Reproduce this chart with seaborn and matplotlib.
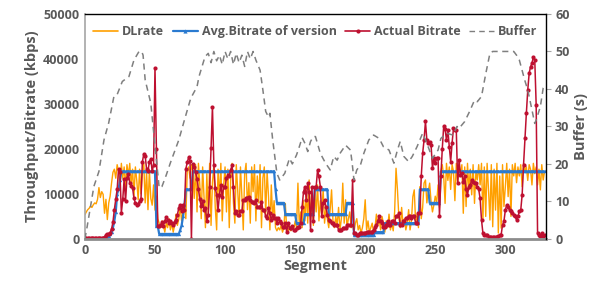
import numpy as np
import matplotlib.pyplot as plt
from matplotlib.lines import Line2D
import seaborn as sns

# ── Data ────────────────────────────────────────────────────────────────────────
dl_rate = [
    5400, 6000, 6500, 6800, 7300, 7000, 7600, 8000, 7800, 8800,
    11400, 9200, 10500, 9900, 5700, 8800, 4300, 8000, 9500, 12400,
    14800, 15500, 13500, 16500, 15000, 11000, 16800, 13500, 16000, 11500,
    16500, 14000, 16800, 12000, 15500, 9500, 16000, 13000, 8700, 15500,
    10000, 14500, 16800, 8000, 15000, 6500, 15300, 9000, 7500, 12000,
    6400, 9500, 4500, 3500, 2500, 4000, 3000, 1500, 3500, 2500,
    4500, 2000, 3500, 1500, 3000, 5500, 3000, 4500, 7200, 4000,
    6000, 8000, 4500, 15000, 16000, 13500, 16500, 15000, 9000, 16500,
    6000, 16800, 12000, 4500, 16000, 9000, 2500, 14500, 5000, 16800,
    3000, 12500, 16500, 7000, 2000, 15500, 9000, 16800, 4000, 12000,
    16000, 6000, 15500, 2500, 13000, 16800, 8000, 3500, 16500, 11000,
    5000, 16000, 9500, 2000, 14500, 16800, 6500, 12500, 3500, 16000,
    10500, 16500, 4000, 14000, 8000, 16500, 2500, 13500, 16000, 5500,
    15000, 9500, 2000, 12000, 4500, 8500, 2500, 1800, 2500, 2000,
    3000, 1500, 2500, 7900, 2000, 1500, 3000, 1800, 2500, 2000,
    4000, 2500, 12400, 3000, 6000, 2500, 8500, 4000, 10900, 3500,
    13100, 5000, 9000, 3000, 10500, 6000, 12000, 4000, 8500, 5500,
    11000, 3500, 7000, 4500, 2500, 6500, 10900, 4000, 2500, 5000,
    3000, 7000, 2000, 4500, 12400, 3500, 8700, 2500, 4500, 6000,
    2500, 3000, 1500, 3500, 4500, 2000, 3000, 1300, 2500, 4500,
    8700, 2000, 4000, 1500, 2500, 3500, 1300, 2500, 5500, 3000,
    4500, 2000, 5000, 3500, 1500, 4000, 2500, 5500, 2000, 3500,
    1800, 6000, 15700, 11000, 5000, 2500, 7000, 3000, 4500, 2000,
    3500, 6500, 2000, 4000, 9400, 10900, 3500, 5500, 2500, 11600,
    4500, 7000, 12400, 13100, 8000, 10500, 12400, 8300, 6000, 7500,
    9500, 8000, 12000, 7000, 15000, 16500, 14000, 7900, 16800, 13000,
    16000, 11000, 16500, 15000, 8500, 16800, 12500, 16000, 14500, 16500,
    5700, 16000, 7200, 16800, 10900, 15500, 9800, 16500, 7900, 15000,
    13100, 16500, 12000, 16800, 4200, 16000, 5000, 16800, 10900, 4200,
    16500, 2700, 15500, 6400, 16800, 1300, 14000, 2400, 16500, 7200,
    11600, 16800, 9400, 15500, 5000, 16500, 14000, 16800, 12500, 16000,
    14000, 16500, 11600, 16800, 15000, 16000, 13000, 16500, 15500, 12000,
    16800, 14500, 16000, 12000, 15500, 10900, 16500, 13100, 15000,
]

# version bitrate steps: level and number of segments it lasts
avg_levels = [0, 300, 600, 1000, 1500, 2500, 4000, 6000, 10000, 11000, 13000,
              15000, 2800, 1100, 2000, 3000, 5000, 7500, 11000, 15000, 11000,
              8000, 5500, 3500, 5500, 11000, 5500, 8000, 900, 1500, 3500,
              11000, 8000, 15000]
avg_runs = [16, 1, 1, 1, 1, 1, 1, 1, 1, 1, 1,
            25, 2, 15, 1, 1, 1, 1, 5, 59, 1,
            6, 8, 6, 7, 10, 13, 5, 15, 7, 25,
            7, 8, 75]

actual_bitrate = [
    200, 200, 200, 200, 200, 200, 200, 200, 200, 200,
    200, 200, 200, 300, 500, 800, 1000, 1200, 1400, 2200,
    3700, 6500, 8800, 11000, 15500, 14800, 5800, 8800, 13300, 8400,
    13600, 14400, 12500, 11800, 11400, 9000, 8000, 7600, 7800, 8400,
    8800, 17100, 18900, 18500, 15500, 15100, 17100, 17800, 15000, 16500,
    38000, 20000, 2800, 2900, 3100, 3700, 2900, 3900, 4900, 4300,
    3500, 3900, 3500, 3200, 3800, 4300, 5400, 6900, 7600, 6100,
    7600, 6500, 15500, 17000, 18100, 17400, 0, 16600, 15900, 14800,
    13300, 11000, 8800, 7300, 8400, 6500, 6900, 3900, 5300, 11600,
    20100, 29400, 16400, 11300, 9800, 6400, 9800, 12000, 9400, 11600,
    11600, 13500, 14200, 14000, 15300, 16400, 11600, 5700, 6100, 5300,
    5300, 6100, 6100, 8700, 8700, 9000, 9000, 9400, 8700, 8300,
    8300, 7900, 8700, 7200, 7200, 7200, 8300, 6400, 6400, 5000,
    4600, 6800, 5700, 4200, 5300, 4600, 4600, 3500, 4600, 3900,
    3500, 2700, 2700, 3500, 1600, 3500, 2400, 2400, 2900, 2000,
    2000, 2400, 2700, 2700, 3500, 7200, 10500, 11600, 8700, 12400,
    10500, 2000, 11600, 3900, 11600, 11600, 15300, 13900, 11600, 5000,
    7900, 8700, 7200, 5300, 4200, 3900, 3500, 3500, 3100, 3100,
    3100, 2000, 2000, 2000, 2400, 2400, 2400, 3100, 3100, 3100,
    3100, 13100, 1300, 1300, 900, 900, 1300, 1300, 1300, 1300,
    1300, 1600, 1600, 1600, 1600, 1600, 2000, 2700, 3100, 3900,
    5000, 3900, 3500, 2700, 2700, 3100, 3900, 3100, 3100, 3900,
    3900, 3500, 5000, 5000, 5700, 3100, 3100, 3900, 3900, 4600,
    4600, 5000, 5000, 4600, 5000, 5000, 3500, 3500, 5700, 5700,
    13900, 19000, 22000, 26100, 22000, 21300, 21600, 20900, 15700, 17900,
    16800, 17900, 17900, 5000, 13900, 20000, 25000, 24400, 22000, 24200,
    20500, 17200, 21300, 24600, 24200, 24200, 12400, 17600, 14200, 14600,
    12700, 13900, 11000, 9800, 11600, 12000, 13100, 12700, 12400, 12400,
    11600, 11000, 9000, 4200, 1300, 900, 900, 900, 500, 400,
    400, 400, 400, 500, 500, 600, 900, 900, 3100, 3900,
    6400, 7600, 7200, 6400, 6100, 5700, 5300, 5000, 4200, 5000,
    6100, 6400, 9800, 16500, 22400, 27900, 33100, 36800, 38300, 39000,
    40500, 39800, 29800, 1300, 900, 700, 1300, 600, 800,
]

buffer_seg = [0, 1.6, 6.4, 10, 13.6, 17, 20.7, 23, 26.7, 31.4, 35, 38.6, 40.5,
              41.5, 43, 47, 50.5, 53, 55, 58, 61, 67, 71, 75.5, 80, 81.4, 85.7,
              88, 90, 92, 94, 96, 98, 100, 102, 104, 106, 108, 110, 112, 114,
              116, 118, 120, 122, 125, 127, 129, 131, 132, 134, 137, 139, 142.6,
              146, 148, 151, 153, 155, 157, 159, 161, 163, 164.5, 168, 171.7,
              175, 177.6, 180, 182, 186, 189.5, 190.7, 192, 194, 196.6, 199,
              202.6, 206, 210, 213, 217, 220.5, 223, 225, 227.6, 231, 233.6,
              237, 241, 244, 248, 252, 254, 258, 262.6, 265.5, 267, 271, 274.5,
              278, 280, 283, 286, 289, 291, 306, 308, 310, 313.8, 316, 318,
              321, 322, 325, 327, 328.5]
buffer_val = [0, 3.3, 14, 18, 26.4, 31, 38, 38.5, 42, 43.3, 47.7, 50, 50,
              49, 42.4, 36.2, 23, 13.6, 14, 17, 20.3, 26.4, 31.7, 37.5, 40.6, 43.3, 48.6,
              49.5, 47, 50, 47.5, 49, 46.5, 50, 48, 50, 46.5, 49.5, 47, 49, 46,
              50, 48, 50, 47.7, 45, 39.7, 34, 32.5, 33.5, 26.4, 17.5, 15.7, 17.5,
              21.5, 20, 22.4, 24.6, 27, 25.5, 23.3, 26, 27.3, 27.3, 22.8, 20.2,
              18.4, 22, 21, 22.8, 25, 23.7, 20.2, 15.7, 18.4, 19.7, 22.8,
              26.4, 27.7, 26.8, 24.6, 23.7, 20.2, 23.7, 26, 22, 20.6, 22,
              24.6, 28.2, 25.5, 21.5, 23.7, 26.8, 28.2, 27.7, 30, 29.5, 31.3, 34,
              37, 36.6, 38, 44, 49.5, 50, 50, 49, 47.7, 42.4, 39.7, 36.2,
              30.8, 31.7, 35.3, 40.2, 41]

# ── Style ───────────────────────────────────────────────────────────────────────
sns.set_theme(style='white')
plt.rcParams['font.family'] = ['Open Sans', 'DejaVu Sans']
plt.rcParams['font.weight'] = 'bold'
GRAY_TXT = '#595959'
ORANGE = '#FFA000'
BLUE = '#2A7AD0'
RED = '#BE1030'
BUF = '#7F7F7F'

avg_bitrate = np.repeat(avg_levels, avg_runs)

fig, ax = plt.subplots(figsize=(5.98, 2.91), dpi=100)
fig.subplots_adjust(left=0.142, right=0.913, bottom=0.179, top=0.952)
ax2 = ax.twinx()

sns.lineplot(x=np.arange(len(dl_rate)), y=dl_rate, ax=ax, color=ORANGE,
             linewidth=1.0, label='DLrate', legend=False)
sns.lineplot(x=np.arange(len(avg_bitrate)), y=avg_bitrate, ax=ax, color=BLUE,
             linewidth=1.6, marker='^', markersize=2.4, markeredgewidth=0,
             label='Avg.Bitrate of version', legend=False)
sns.lineplot(x=np.arange(len(actual_bitrate)), y=actual_bitrate, ax=ax, color=RED,
             linewidth=1.1, marker='o', markersize=3, markeredgewidth=0,
             label='Actual Bitrate', legend=False)
sns.lineplot(x=buffer_seg, y=buffer_val, ax=ax2, color=BUF, linewidth=1.1,
             linestyle=(0, (4, 3)), label='Buffer', legend=False)

ax.set_xlim(0, 329)
ax.set_ylim(0, 50000)
ax2.set_ylim(0, 60)
ax.set_xticks(range(0, 301, 50))
ax.set_yticks(range(0, 50001, 10000))
ax2.set_yticks(range(0, 61, 10))

ax.set_xlabel('Segment', fontsize=10.5, fontweight='bold', color=GRAY_TXT, labelpad=1)
ax.set_ylabel('Throughput/Bitrate (kbps)', fontsize=10.5, fontweight='bold',
              color=GRAY_TXT, labelpad=3)
ax2.set_ylabel('Buffer (s)', fontsize=10.5, fontweight='bold', color=GRAY_TXT, labelpad=3)

ax.tick_params(axis='both', length=0, labelsize=9, labelcolor=GRAY_TXT, pad=4)
ax2.tick_params(axis='y', length=3.5, width=0.8, color='#A6A6A6', direction='out',
                labelsize=9, labelcolor=GRAY_TXT, pad=3)
for lab in ax.get_xticklabels() + ax.get_yticklabels() + ax2.get_yticklabels():
    lab.set_fontweight('bold')

for side in ['left', 'bottom', 'top', 'right']:
    ax2.spines[side].set_visible(False)
ax.spines['right'].set_visible(False)
ax2.spines['right'].set_visible(True)
ax2.spines['right'].set_color('black')
ax2.spines['right'].set_linewidth(1.0)
ax.spines['top'].set_color('black')
ax.spines['top'].set_linewidth(1.0)
ax.spines['left'].set_color('#A6A6A6')
ax.spines['left'].set_linewidth(1.2)
ax.spines['bottom'].set_color('#8C8C8C')
ax.spines['bottom'].set_linewidth(2.0)

handles = [
    Line2D([], [], color=ORANGE, linewidth=1.2),
    Line2D([], [], color=BLUE, linewidth=1.6, marker='^', markersize=3, markeredgewidth=0),
    Line2D([], [], color=RED, linewidth=1.2, marker='o', markersize=3, markeredgewidth=0),
    Line2D([], [], color=BUF, linewidth=1.0, linestyle=(0, (4, 3))),
]
labels = ['DLrate', 'Avg.Bitrate of version', 'Actual Bitrate', 'Buffer']
leg = ax2.legend(handles, labels, loc='upper center', bbox_to_anchor=(0.5, 1.0),
                 ncol=4, frameon=False, fontsize=9, handlelength=2.0,
                 handletextpad=0.3, columnspacing=0.7)
for t in leg.get_texts():
    t.set_color(GRAY_TXT)
    t.set_fontweight('bold')

plt.savefig('out.png', dpi=100)
plt.close()
